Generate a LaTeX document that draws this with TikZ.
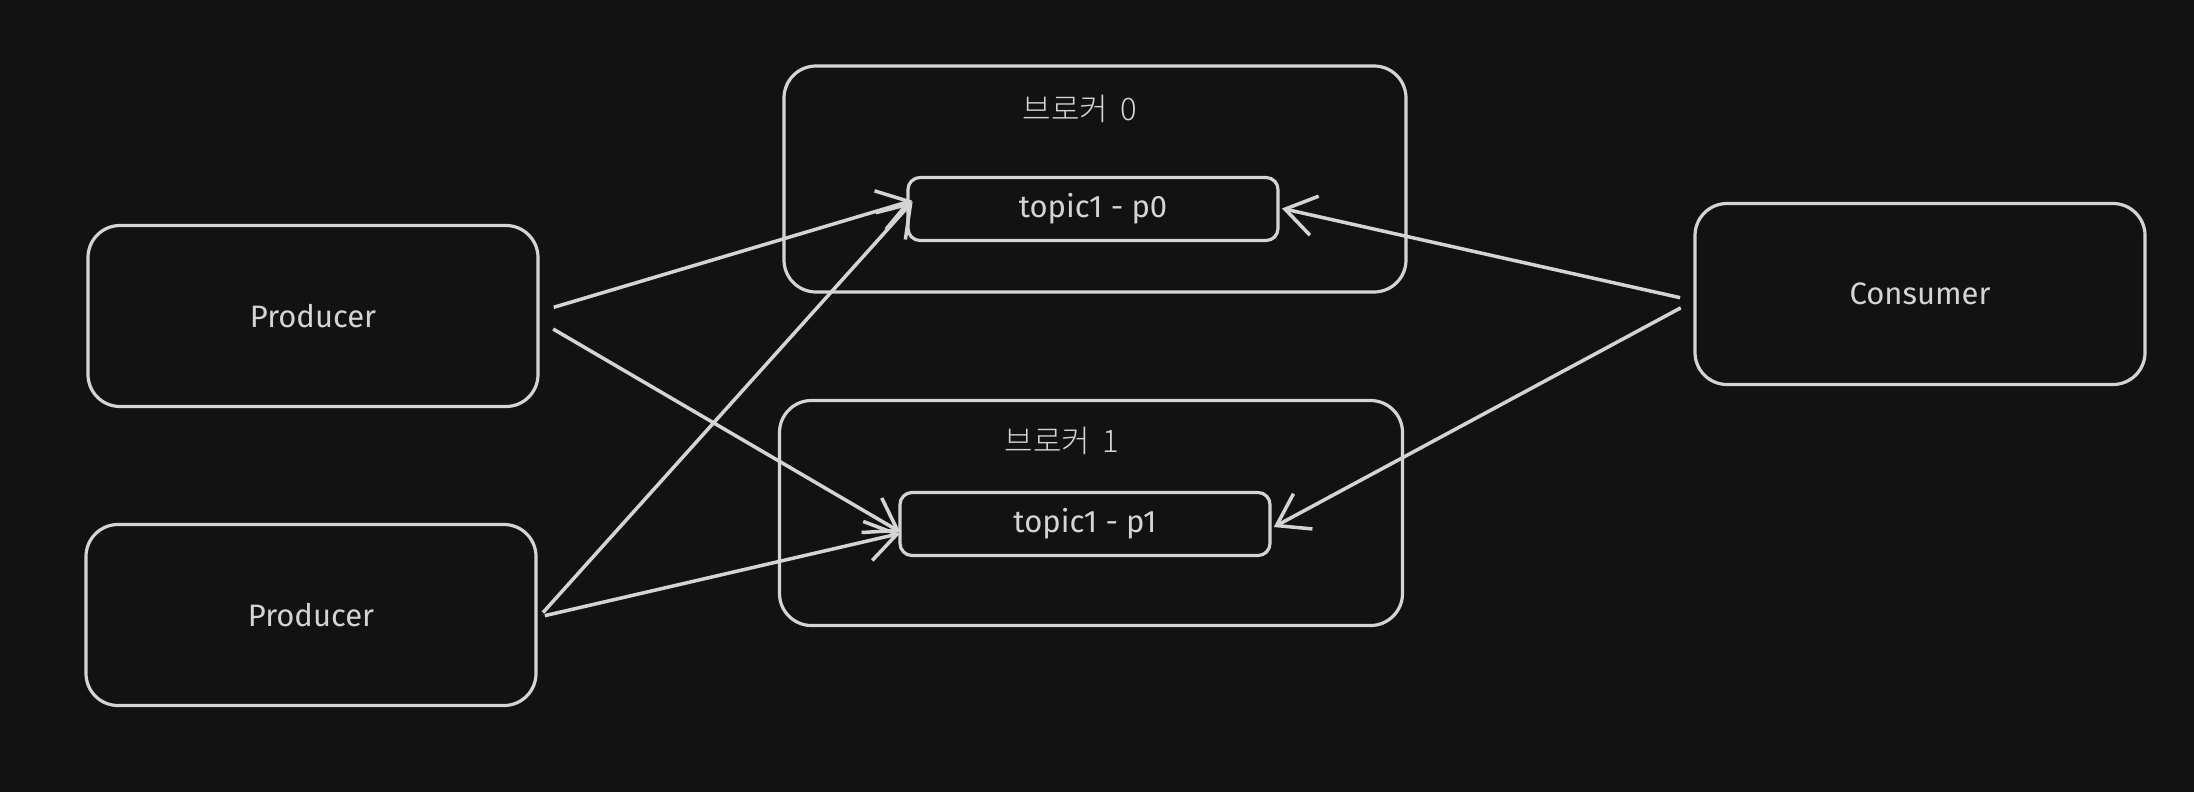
\documentclass[tikz,border=0pt]{standalone}
\usepackage{fontspec}
\setmainfont{Fira Sans}
\newfontfamily\kr{Noto Sans CJK KR Light}
\usetikzlibrary{arrows.meta}
\definecolor{bg}{HTML}{121212}
\definecolor{ink}{HTML}{D4D4D4}
\tikzset{
  bigbox/.style={draw=ink, line width=3.2pt, rounded corners=32pt, inner sep=0pt},
  topicbox/.style={draw=ink, line width=3.2pt, rounded corners=12pt, minimum width=370pt, minimum height=63pt, inner sep=0pt, text=ink, font=\fontsize{31}{36}\selectfont},
  actor/.style={draw=ink, line width=3.2pt, rounded corners=32pt, minimum width=450pt, minimum height=181pt, inner sep=0pt, text=ink, font=\fontsize{31}{36}\selectfont},
  lbl/.style={text=ink, font=\kr\fontsize{31}{36}\selectfont, inner sep=0pt},
  conn/.style={draw=ink, line width=3.5pt, -{Straight Barb[length=30pt, width=40pt, line width=3.5pt]}, shorten >=2pt, shorten <=6pt},
}
\begin{document}
\begin{tikzpicture}[x=1pt, y=-1pt]
\fill[bg] (0,0) rectangle (2194,792);
\useasboundingbox (0,0) rectangle (2194,792);
% brokers
\node[bigbox, minimum width=622pt, minimum height=226pt] (b0) at (1095,179) {};
\node[bigbox, minimum width=623pt, minimum height=225pt] (b1) at (1091,513) {};
\node[lbl] (b0l) at (1080,109) {브로커\hspace{12pt}0};
\node[lbl] (b1l) at (1062,441) {브로커\hspace{12pt}1};
\node[topicbox] (p0) at (1093,209) {topic1 - p0};
\node[topicbox] (p1) at (1085,524) {topic1 - p1};
% actors
\node[actor] (pr1) at (313,316) {Producer};
\node[actor] (pr2) at (311,615) {Producer};
\node[actor] (co) at (1920,294) {Consumer};
% connector anchors
\coordinate (pr1a) at (548,309);
\coordinate (pr1b) at (548,326);
\coordinate (pr2a) at (539,617);
\coordinate (coa) at (1686,299);
\coordinate (cob) at (1686,305);
\coordinate (p0l) at (914,200);
\coordinate (p1l) at (902,533);
\coordinate (p0r) at (1280,208);
\coordinate (p1r) at (1272,528);
\draw[conn] (pr1a) -- (p0l);
\draw[conn] (pr1b) -- (p1l);
\draw[conn] (pr2a) -- (p0l);
\draw[conn] (pr2a) -- (p1l);
\draw[conn] (coa) -- (p0r);
\draw[conn] (cob) -- (p1r);
\end{tikzpicture}
\end{document}
